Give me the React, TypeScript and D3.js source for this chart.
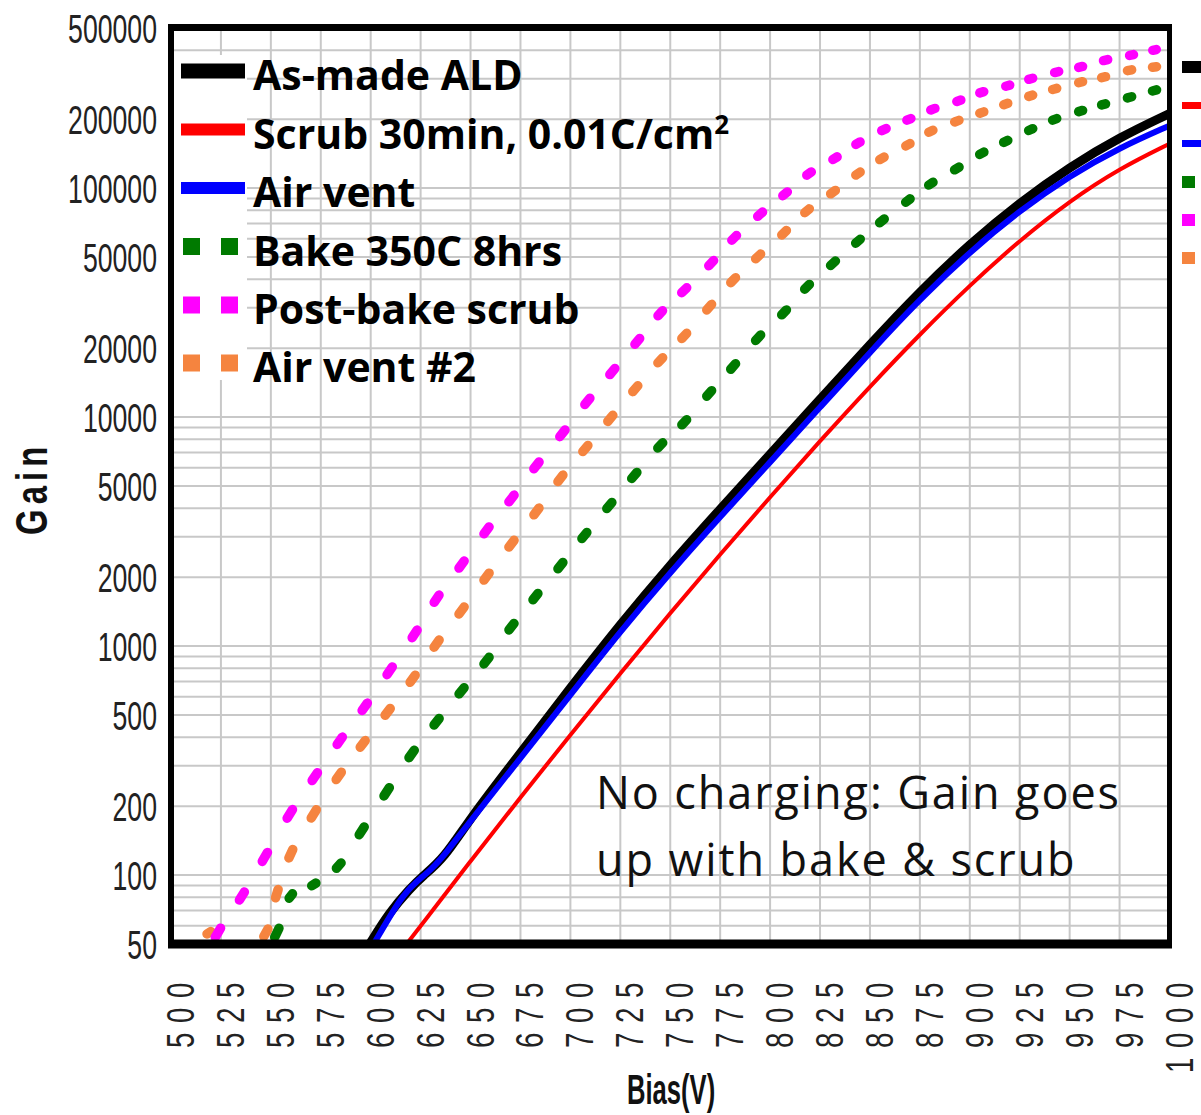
import React from "react";
import * as d3 from "d3";

type Pt = [number, number]; // [bias (V), gain]

// Axis tick values
const GAIN_TICKS = [500000, 200000, 100000, 50000, 20000, 10000, 5000, 2000, 1000, 500, 200, 100, 50];
const BIAS_TICKS = [500, 525, 550, 575, 600, 625, 650, 675, 700, 725, 750, 775, 800, 825, 850, 875, 900, 925, 950, 975, 1000];

// Measured gain curves
const asMadeALD: Pt[] = [
  [599.5, 50], [609.5, 69], [619.5, 87], [626, 99], [636.5, 117.6], [650, 178], [675, 341],
  [700, 657], [725, 1245], [750, 2267], [775, 3963], [800, 6886], [825, 11950], [850, 20750],
  [875, 35400], [900, 57000], [925, 86400], [950, 123600], [975, 166600], [1000, 211600],
];

const scrub30min: Pt[] = [
  [618, 50], [625, 59.9], [650, 115.2], [675, 218.6], [700, 410], [725, 760], [750, 1394],
  [775, 2516], [800, 4476], [825, 7866], [850, 13610], [875, 23000], [900, 37650], [925, 59130],
  [950, 87850], [975, 121800], [1000, 156200],
];

const airVent: Pt[] = [
  [601.5, 50], [615.5, 81], [622.5, 93], [630.5, 106], [637.5, 124], [650, 172.6], [675, 324],
  [700, 611], [725, 1158], [750, 2097], [775, 3666], [800, 6356], [825, 11030], [850, 19150],
  [875, 32700], [900, 52600], [925, 79700], [950, 113100], [975, 150000], [1000, 187300],
];

const bake350C: Pt[] = [
  [540, 35], [553, 56], [560, 81], [571.5, 91], [584, 110], [595.5, 156], [608, 231], [620.5, 338],
  [633, 467], [645.5, 638], [658, 864], [670.5, 1215], [682.5, 1644], [695, 2245], [707, 3040],
  [719.5, 4110], [732, 5560], [745, 7515], [757, 9485], [769.5, 12680], [781.5, 16630], [794, 22200],
  [807, 28650], [818.5, 37050], [831.5, 46950], [844, 58600], [856, 71900], [869, 88200],
  [880.5, 104500], [893.5, 121800], [906, 141900], [918, 159900], [930.5, 180000], [942.5, 199500],
  [955.5, 217000], [967, 232000], [980, 249000], [992.5, 267000],
];

const postBakeScrub: Pt[] = [
  [511, 35], [523.5, 56], [535.5, 81], [547, 120], [559.5, 185], [572, 269], [584.5, 386], [597, 543],
  [609.5, 780], [622, 1130], [633, 1610], [645.5, 2270], [658, 3200], [670.5, 4410], [683, 6150],
  [696, 8490], [708.5, 11700], [721, 15800], [733.5, 21400], [745, 28400], [757, 35800],
  [770.5, 47000], [782, 60600], [795, 76900], [807.5, 94400], [819.5, 115700], [832.5, 135000],
  [844, 157000], [857, 180000], [869.5, 199500], [881.5, 221000], [894.5, 240500], [906, 262000],
  [919, 280000], [930.5, 300000], [943.5, 321000], [955.5, 338000], [968, 362000], [981, 381000],
  [992.5, 401000],
];

const airVent2: Pt[] = [
  [510, 30], [519, 56], [533, 40], [547.5, 56], [553, 83], [560, 124], [571.5, 185], [584, 271],
  [596, 374], [608.5, 516], [621, 720], [633, 1025], [645.5, 1430], [658, 2010], [670.5, 2800],
  [683, 3870], [695, 5400], [707.5, 7290], [720, 9870], [732.5, 13300], [745, 17700], [757, 22600],
  [769.5, 30200], [781.5, 39600], [794, 50300], [807, 63800], [818.5, 79600], [831.5, 96000],
  [844, 115700], [856, 134900], [869, 154600], [880.5, 177000], [893.5, 196000], [906, 213600],
  [918, 232800], [930.5, 253000], [942.5, 271000], [955.5, 290000], [967, 305000], [980, 327000],
  [992.5, 338000],
];

interface Series {
  name: string;
  sup?: string;
  color: string;
  data: Pt[];
  dotted: boolean;
  width: number;
  swatchH: number;
  sideH: number;
}

const SERIES: Series[] = [
  { name: "As-made ALD", color: "#000000", data: asMadeALD, dotted: false, width: 9, swatchH: 15, sideH: 12 },
  { name: "Scrub 30min, 0.01C/cm", sup: "2", color: "#ff0000", data: scrub30min, dotted: false, width: 4, swatchH: 12, sideH: 7 },
  { name: "Air vent", color: "#0000ff", data: airVent, dotted: false, width: 6, swatchH: 12, sideH: 7 },
  { name: "Bake 350C 8hrs", color: "#007a00", data: bake350C, dotted: true, width: 9.5, swatchH: 17, sideH: 12 },
  { name: "Post-bake scrub", color: "#ff00ff", data: postBakeScrub, dotted: true, width: 9.5, swatchH: 17, sideH: 12 },
  { name: "Air vent #2", color: "#f5843f", data: airVent2, dotted: true, width: 9.5, swatchH: 17, sideH: 12 },
];

const DRAW_ORDER = [0, 2, 1, 3, 5, 4];

const NARROW = "'Liberation Sans', Arial, sans-serif";
const SANS = "'Open Sans', 'Noto Sans', sans-serif";

// Short dash marks, one per sample, oriented along the curve
function dotMarks(data: Pt[], x: (v: number) => number, y: (v: number) => number) {
  const P = data.map((d) => [x(d[0]), y(d[1])] as [number, number]);
  return P.map((p, i) => {
    const a = P[i > 0 ? i - 1 : i];
    const b = P[i < P.length - 1 ? i + 1 : i];
    const dx = b[0] - a[0];
    const dy = b[1] - a[1];
    const len = Math.hypot(dx, dy) || 1;
    const span = len / (i > 0 && i < P.length - 1 ? 2 : 1);
    const half = Math.max(1.8, 0.14 * span - 1.5);
    const ux = dx / len;
    const uy = dy / len;
    return [
      [p[0] - ux * half, p[1] - uy * half],
      [p[0] + ux * half, p[1] + uy * half],
    ] as [number, number][];
  });
}

export default function App() {
  const left = 171;
  const right = 1169.5;
  const top = 28;
  const bottom = 944;

  const x = d3.scaleLinear().domain([500, 1000]).range([left, right]);
  const y = d3.scaleLog().domain([50, 500000]).range([bottom, top]);

  const line = d3
    .line<Pt>()
    .x((d) => x(d[0]))
    .y((d) => y(d[1]))
    .curve(d3.curveBasis);
  const seg = d3.line<[number, number]>();

  const gridGains: number[] = [];
  for (let e = 1; e <= 5; e++) {
    for (let m = 1; m <= 9; m++) {
      const v = m * Math.pow(10, e);
      if (v >= 50 && v <= 500000) gridGains.push(v);
    }
  }

  const legendBase = [90, 148.5, 207, 265.5, 324, 382];
  const sideCenters = [67, 105.5, 143.5, 182, 220, 258];

  return (
    <div style={{ position: "absolute", left: 0, top: 0 }}>
      <svg width={1201} height={1115} style={{ display: "block", background: "#ffffff" }}>
        <defs>
          <clipPath id="plotClip">
            <rect x={left} y={top} width={right - left} height={bottom - top} />
          </clipPath>
        </defs>

        {/* grid */}
        <g stroke="#c8c8c8" strokeWidth={2}>
          {BIAS_TICKS.slice(1, -1).map((b) => (
            <line key={"v" + b} x1={x(b)} x2={x(b)} y1={top} y2={bottom} />
          ))}
          {gridGains.map((g) => (
            <line key={"h" + g} x1={left} x2={right} y1={y(g)} y2={y(g)} />
          ))}
        </g>

        {/* legend swatch column background */}
        <rect x={left + 3} y={55} width={247 - left - 3} height={325} fill="#ffffff" />

        {/* curves */}
        <g clipPath="url(#plotClip)">
          {DRAW_ORDER.map((si) => {
            const s = SERIES[si];
            if (!s.dotted) {
              return (
                <path
                  key={s.name}
                  d={line(s.data) || ""}
                  fill="none"
                  stroke={s.color}
                  strokeWidth={s.width}
                  strokeLinejoin="round"
                />
              );
            }
            return (
              <g key={s.name} stroke={s.color} strokeWidth={s.width} strokeLinecap="round" fill="none">
                {dotMarks(s.data, x, y).map((m, i) => (
                  <path key={i} d={seg(m) || ""} />
                ))}
              </g>
            );
          })}
        </g>

        {/* legend */}
        {SERIES.map((s, i) => {
          const cy = legendBase[i] - 19;
          return (
            <g key={"lg" + s.name}>
              {s.dotted ? (
                <g fill={s.color}>
                  <rect x={183} y={cy - s.swatchH / 2} width={17} height={s.swatchH} />
                  <rect x={221} y={cy - s.swatchH / 2} width={17} height={s.swatchH} />
                </g>
              ) : (
                <rect x={181} y={cy - s.swatchH / 2} width={64} height={s.swatchH} fill={s.color} />
              )}
              <text x={253} y={legendBase[i]} fontFamily={SANS} fontWeight={700} fontSize={41} fill="#000">
                {s.name}
                {s.sup ? (
                  <tspan dy={-15} fontSize={26}>
                    {s.sup}
                  </tspan>
                ) : null}
              </text>
            </g>
          );
        })}

        {/* annotation */}
        <g fontFamily={SANS} fontSize={45} fill="#111" letterSpacing={1.9}>
          <text x={596} y={809}>No charging: Gain goes</text>
          <text x={596} y={876}>up with bake &amp; scrub</text>
        </g>

        {/* frame */}
        <g stroke="#000">
          <line x1={left - 3} x2={right + 2.5} y1={top - 0.5} y2={top - 0.5} strokeWidth={7} />
          <line x1={left - 3} x2={right + 2.5} y1={bottom} y2={bottom} strokeWidth={9} />
          <line x1={left} x2={left} y1={top - 4} y2={bottom + 4} strokeWidth={6} />
          <line x1={right} x2={right} y1={top - 4} y2={bottom + 4} strokeWidth={5} />
        </g>

        {/* y tick labels */}
        {GAIN_TICKS.map((g) => (
          <text
            key={"yt" + g}
            transform={`translate(157,${y(g)}) scale(0.65,1)`}
            textAnchor="end"
            dy="0.36em"
            fontFamily={NARROW}
            fontSize={41}
            fill="#222"
          >
            {g}
          </text>
        ))}

        {/* x tick labels */}
        {BIAS_TICKS.map((b) => (
          <text
            key={"xt" + b}
            transform={`translate(${x(b) + 23},973) rotate(-90) scale(0.71,1)`}
            textAnchor="end"
            fontFamily={NARROW}
            fontSize={39}
            letterSpacing={13.5}
            fill="#222"
          >
            {b}
          </text>
        ))}

        {/* axis titles */}
        <text
          transform="translate(47,535) rotate(-90) scale(1,1.35)"
          fontFamily={NARROW}
          fontWeight={700}
          fontSize={33}
          letterSpacing={5}
          fill="#111"
        >
          Gain
        </text>
        <text
          transform="translate(627,1104) scale(0.61,1)"
          fontFamily={NARROW}
          fontWeight={700}
          fontSize={42}
          fill="#111"
        >
          Bias(V)
        </text>

        {/* second legend, partly beyond the right edge */}
        {SERIES.map((s, i) => (
          <rect
            key={"side" + s.name}
            x={1182}
            y={sideCenters[i] - s.sideH / 2}
            width={s.dotted ? 13 : 30}
            height={s.sideH}
            fill={s.color}
          />
        ))}
      </svg>
    </div>
  );
}
